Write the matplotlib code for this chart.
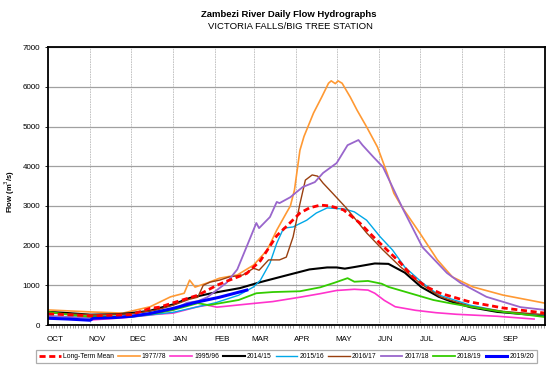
import matplotlib
matplotlib.use("Agg")
import matplotlib.pyplot as plt
import matplotlib.transforms as mtransforms
import numpy as np

plt.rcParams['font.family'] = ['Liberation Sans', 'DejaVu Sans']

# day 0 = 1 October, values in m3/s
months = ["OCT", "NOV", "DEC", "JAN", "FEB", "MAR", "APR", "MAY", "JUN", "JUL", "AUG", "SEP"]
month_start = [0, 31, 61, 92, 123, 151, 182, 212, 243, 273, 304, 335]

mean_day = [0, 20, 31, 61, 75, 82, 92, 110, 124, 131, 146, 156, 168, 175, 180, 185, 192, 200, 207,
            217, 229, 239, 249, 259, 268, 278, 288, 310, 334, 365]
mean_q = [280, 250, 230, 260, 420, 450, 560, 750, 1000, 1100, 1300, 1620, 2250, 2480, 2650, 2820, 2950,
          3020, 3000, 2900, 2570, 2220, 1890, 1560, 1210, 960, 800, 580, 430, 300]

y7778_day = [0, 31, 55, 75, 90, 100, 104, 108, 117, 126, 139, 151, 161, 168, 175, 178, 181, 185, 188,
             195, 201, 206, 208, 211, 213, 216, 222, 227, 234, 242, 249, 254, 260, 273, 286, 297, 312,
             334, 365]
y7778_q = [380, 330, 300, 460, 710, 800, 1130, 955, 1060, 1180, 1260, 1510, 1890, 2390, 2820, 3000, 3400,
           4400, 4750, 5340, 5740, 6090, 6150, 6080, 6150, 6090, 5740, 5410, 4990, 4480, 3830, 3320, 2970,
           2320, 1640, 1210, 960, 755, 550]

y9596_day = [0, 20, 31, 50, 61, 80, 92, 110, 117, 124, 130, 150, 165, 185, 200, 212, 225, 235, 240, 247,
             255, 270, 285, 300, 330, 357]
y9596_q = [170, 140, 125, 170, 200, 270, 300, 460, 500, 450, 470, 540, 590, 700, 790, 870, 900, 880, 800,
           620, 460, 370, 310, 270, 220, 150]

y1415_day = [0, 15, 31, 50, 61, 75, 82, 92, 104, 120, 141, 156, 175, 192, 205, 212, 218, 225, 240, 250,
             262, 274, 287, 297, 310, 330, 365]
y1415_q = [330, 300, 260, 270, 300, 360, 430, 520, 680, 800, 930, 1080, 1250, 1400, 1450, 1450, 1420,
           1460, 1550, 1540, 1320, 960, 710, 580, 450, 330, 230]

y1516_day = [0, 20, 31, 61, 92, 123, 140, 151, 156, 163, 168, 173, 180, 190, 197, 205, 218, 225, 234,
             244, 253, 262, 275, 287, 294, 310, 335, 365]
y1516_q = [230, 200, 180, 200, 320, 560, 750, 960, 1130, 1560, 2060, 2440, 2470, 2640, 2820, 2950, 2920,
           2850, 2640, 2220, 1890, 1460, 1060, 755, 680, 500, 330, 250]

y1617_day = [0, 31, 61, 80, 92, 104, 110, 114, 119, 126, 133, 143, 151, 155, 162, 170, 175, 180, 185,
             189, 194, 198, 202, 209, 219, 234, 246, 259, 273, 288, 295, 310, 335, 365]
y1617_q = [300, 260, 280, 380, 500, 650, 700, 1000, 1080, 1130, 1210, 1260, 1430, 1380, 1640, 1640, 1710,
           2220, 3050, 3650, 3780, 3750, 3575, 3320, 2950, 2320, 1890, 1460, 1060, 710, 630, 470, 340, 260]

y1718_day = [0, 31, 61, 92, 102, 110, 117, 124, 131, 139, 148, 153, 155, 163, 168, 170, 178, 187, 196,
             202, 212, 220, 228, 231, 239, 246, 253, 261, 275, 293, 303, 322, 347, 365]
y1718_q = [220, 180, 220, 380, 560, 600, 700, 880, 1060, 1400, 2150, 2570, 2440, 2720, 3100, 3070, 3220,
           3475, 3600, 3830, 4080, 4530, 4660, 4530, 4230, 3980, 3475, 2900, 1960, 1310, 1060, 710, 450, 380]

y1819_day = [0, 15, 31, 61, 80, 92, 110, 118, 140, 153, 165, 185, 200, 210, 220, 225, 235, 245, 250,
             266, 283, 295, 310, 330, 365]
y1819_q = [330, 260, 210, 210, 300, 380, 550, 500, 630, 800, 830, 850, 950, 1060, 1180, 1090, 1110, 1040,
           960, 800, 630, 550, 460, 350, 200]

y1920_day = [0, 15, 31, 33, 50, 61, 75, 92, 107, 126, 146]
y1920_q = [170, 150, 120, 170, 190, 220, 290, 420, 560, 700, 880]

fig = plt.figure(figsize=(5.5, 3.74), dpi=100)
ax = fig.add_axes([0.0873, 0.131, 0.9036, 0.743])

ax.plot(y7778_day, y7778_q, color="#FF9933", lw=1.2, label="1977/78")
ax.plot(y9596_day, y9596_q, color="#FF33CC", lw=1.2, label="1995/96")
ax.plot(y1415_day, y1415_q, color="black", lw=1.5, label="2014/15")
ax.plot(y1516_day, y1516_q, color="#00A8E8", lw=1.0, label="2015/16")
ax.plot(y1617_day, y1617_q, color="#993F0F", lw=1.0, label="2016/17")
ax.plot(y1718_day, y1718_q, color="#9966CC", lw=1.3, label="2017/18")
ax.plot(y1819_day, y1819_q, color="#33CC00", lw=1.3, label="2018/19")
ax.plot(y1920_day, y1920_q, color="#0000FF", lw=2.2, label="2019/20")
ax.plot(mean_day, mean_q, color="#FF0000", lw=2.0, ls=(0, (2.2, 1.3)), label="Long-Term Mean")

ax.set_xlim(0, 365)
ax.set_ylim(0, 7000)
ax.set_yticks(np.arange(0, 7001, 1000))
ax.set_xticks(month_start)
ax.set_xticklabels([])
ax.set_xticks(np.arange(0, 366, 2), minor=True)
ax.tick_params(axis="x", which="major", length=0)
ax.tick_params(axis="x", which="minor", length=2, width=0.5, color="#777777")
ax.tick_params(axis="y", length=2.5, width=0.6, labelsize=5.8, pad=3)

ax.grid(axis="y", color="#A0A0A0", lw=0.9)
ax.grid(axis="x", which="major", color="#BBBBBB", lw=0.6, ls=(0, (2, 1)))
ax.set_axisbelow(True)
for s in ax.spines.values():
    s.set_linewidth(1.3)

trans = mtransforms.blended_transform_factory(ax.transData, ax.transAxes)
for m, d in zip(months, month_start):
    ax.text(d + 5, -0.04, m, transform=trans, ha="center", va="top", fontsize=5.8)

ax.set_ylabel("Flow (m$^3$/s)", fontsize=5.5, fontweight="bold")
ax.yaxis.set_label_coords(-0.063, 0.48)

fig.text(0.525, 0.96, "Zambezi River Daily Flow Hydrographs", ha="center", va="center",
         fontsize=6.8, fontweight="bold")
fig.text(0.528, 0.928, "VICTORIA FALLS/BIG TREE STATION", ha="center", va="center", fontsize=6.8)

handles, labels = ax.get_legend_handles_labels()
order = [8, 0, 1, 2, 3, 4, 5, 6, 7]
leg = fig.legend([handles[i] for i in order], [labels[i] for i in order], loc="center",
                 bbox_to_anchor=(0.521, 0.047), ncol=9, fontsize=4.9, frameon=True, fancybox=False,
                 handlelength=3.2, handletextpad=0.3, columnspacing=0.6, borderpad=0.5,
                 borderaxespad=0)
leg.get_frame().set_edgecolor("#999999")
leg.get_frame().set_linewidth(0.9)

fig.savefig("out.png", dpi=100)
